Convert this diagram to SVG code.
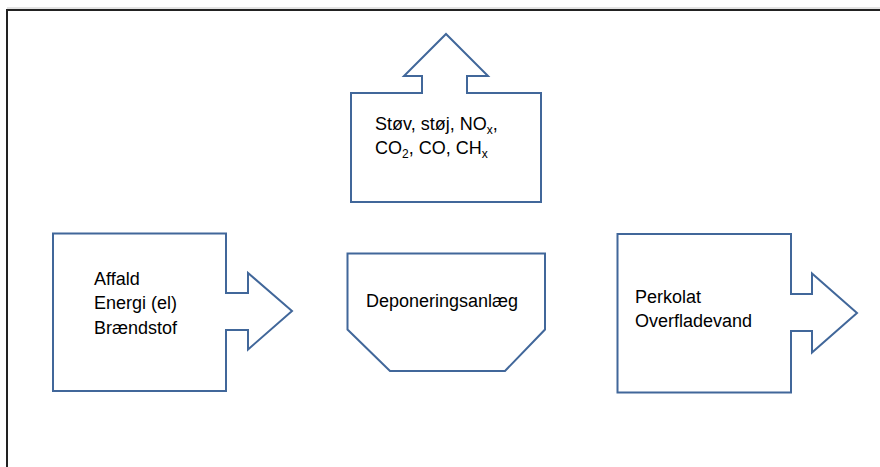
<svg xmlns="http://www.w3.org/2000/svg" width="880" height="467" viewBox="0 0 880 467">
<style>
.shape{fill:#ffffff;stroke:#41679a;stroke-width:2;stroke-linejoin:miter}
.t{font-family:"Liberation Sans",Arial,sans-serif;font-size:18px;fill:#000000}
.sub{font-size:12px}
</style>
<rect width="880" height="467" fill="#ffffff"/>
<g id="frame">
<line x1="7" y1="8" x2="880" y2="8" stroke="#c8c8c8" stroke-width="1"/>
<polyline points="7,467 7,10 880,10" fill="none" stroke="#222222" stroke-width="2"/>
</g>
<g id="emissions">
<path class="shape" d="M351,93 H422 V76 H404 L446,34 L488,76 H467 V93 H541 V202 H351 Z"/>
<text class="t" x="375" y="129.5">Støv, støj, NO<tspan class="sub" dy="4">x</tspan><tspan dy="-4">,</tspan></text>
<text class="t" x="375" y="154">CO<tspan class="sub" dy="4">2</tspan><tspan dy="-4">, CO, CH</tspan><tspan class="sub" dy="4">x</tspan></text>
</g>
<g id="input">
<path class="shape" d="M53,233.5 H226 V293 H248 V273 L292,311 L248,349.5 V330 H226 V391 H53 Z"/>
<text class="t" x="94" y="285">Affald</text>
<text class="t" x="94" y="309">Energi (el)</text>
<text class="t" x="94" y="334">Brændstof</text>
</g>
<g id="landfill">
<path class="shape" d="M347.5,253.5 H545 V329.5 L505,371 H390 L347.5,329.5 Z"/>
<text class="t" x="366" y="306.5">Deponeringsanlæg</text>
</g>
<g id="output">
<path class="shape" d="M617.5,234 H791 V294 H812 V273.5 L857,313 L812,352.5 V331 H791 V392.5 H617.5 Z"/>
<text class="t" x="635" y="302.5">Perkolat</text>
<text class="t" x="635" y="326.5">Overfladevand</text>
</g>
<g id="connectors"/>
</svg>
